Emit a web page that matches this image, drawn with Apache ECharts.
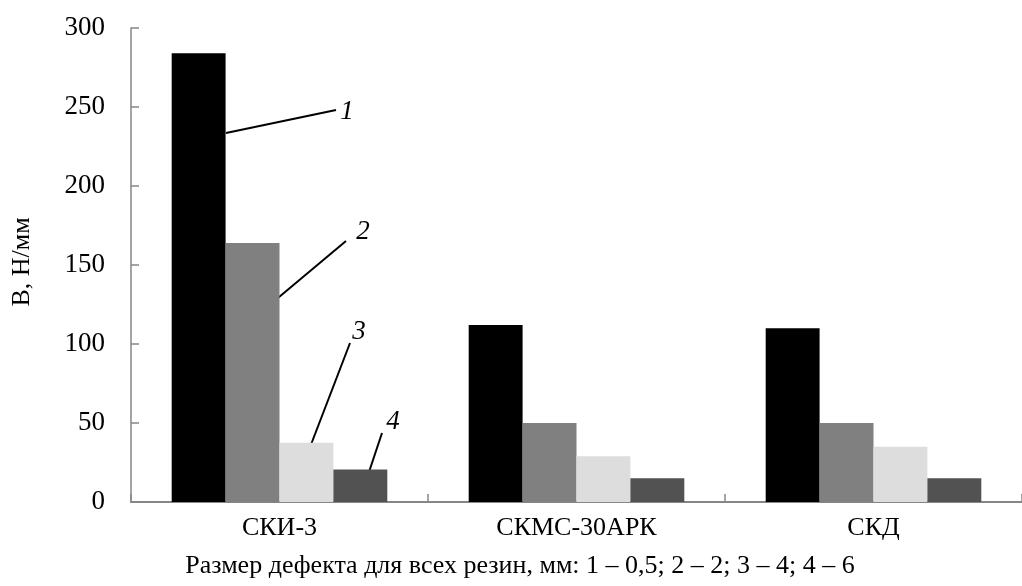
<!DOCTYPE html>
<html>
<head>
<meta charset="utf-8">
<script src="https://cdn.jsdelivr.net/npm/echarts@6/dist/echarts.min.js"></script>
<style>
html,body{margin:0;padding:0;background:#fff;}
#chart{width:1022px;height:586px;}
</style>
</head>
<body>
<div id="chart"></div>
<script>
var categories = ['СКИ-3', 'СКМС-30АРК', 'СКД'];
var series1 = [284, 112, 110];   // 1 – 0,5 мм
var series2 = [164, 50, 50];     // 2 – 2 мм
var series3 = [37.5, 29, 35];    // 3 – 4 мм
var series4 = [20.5, 15, 15];    // 4 – 6 мм
var yTicks = [0, 50, 100, 150, 200, 250, 300];
var seriesNames = ['1', '2', '3', '4'];
var colors = ['#000000', '#808080', '#dddddd', '#525252'];
var yTitle = 'В, Н/мм';
var subtitle = 'Размер дефекта для всех резин, мм: 1 – 0,5; 2 – 2; 3 – 4; 4 – 6';

var FONT = '"Liberation Serif", "Times New Roman", serif';
var AXIS = '#868686';

var chart = echarts.init(document.getElementById('chart'), null, {renderer: 'canvas'});
var data = [series1, series2, series3, series4];

var option = {
  animation: false,
  backgroundColor: '#ffffff',
  grid: {left: 131, top: 28, width: 903, height: 474, containLabel: false},
  xAxis: {
    type: 'category',
    data: categories,
    boundaryGap: true,
    axisLine: {show: true, lineStyle: {color: AXIS, width: 2}},
    axisTick: {show: true, inside: true, length: 8, lineStyle: {color: AXIS, width: 1.5}},
    axisLabel: {color: '#000', fontFamily: FONT, fontSize: 26, margin: 13}
  },
  yAxis: {
    type: 'value',
    min: yTicks[0],
    max: yTicks[yTicks.length - 1],
    interval: yTicks[1] - yTicks[0],
    axisLine: {show: true, lineStyle: {color: AXIS, width: 1.5}},
    axisTick: {show: true, inside: true, length: 8, lineStyle: {color: AXIS, width: 1.5}},
    splitLine: {show: false},
    axisLabel: {color: '#000', fontFamily: FONT, fontSize: 27, margin: 26}
  },
  series: data.map(function (d, i) {
    return {
      name: seriesNames[i],
      type: 'bar',
      data: d,
      barGap: '0%',
      barCategoryGap: '27.4%',
      itemStyle: {color: colors[i]}
    };
  }),
  graphic: [
    {type: 'text', x: 22, y: 262, rotation: Math.PI / 2,
      style: {text: yTitle, font: '26px ' + FONT, fill: '#000', textAlign: 'center', textVerticalAlign: 'middle'}},
    {type: 'text', x: 520, y: 566,
      style: {text: subtitle, font: '26px ' + FONT, fill: '#000', textAlign: 'center', textVerticalAlign: 'middle'}},
    // leader lines for series annotations
    {type: 'line', shape: {x1: 226, y1: 133, x2: 336, y2: 110}, style: {stroke: '#000', lineWidth: 2}},
    {type: 'line', shape: {x1: 254, y1: 318, x2: 346, y2: 241}, style: {stroke: '#000', lineWidth: 2}},
    {type: 'line', shape: {x1: 307, y1: 455, x2: 350, y2: 343}, style: {stroke: '#000', lineWidth: 2}},
    {type: 'line', shape: {x1: 365, y1: 484, x2: 382, y2: 433}, style: {stroke: '#000', lineWidth: 2}},
    {type: 'text', x: 347, y: 112, style: {text: seriesNames[0], font: 'italic 27px ' + FONT, fill: '#000', textAlign: 'center', textVerticalAlign: 'middle'}},
    {type: 'text', x: 363, y: 232, style: {text: seriesNames[1], font: 'italic 27px ' + FONT, fill: '#000', textAlign: 'center', textVerticalAlign: 'middle'}},
    {type: 'text', x: 359, y: 332, style: {text: seriesNames[2], font: 'italic 27px ' + FONT, fill: '#000', textAlign: 'center', textVerticalAlign: 'middle'}},
    {type: 'text', x: 393, y: 422, style: {text: seriesNames[3], font: 'italic 27px ' + FONT, fill: '#000', textAlign: 'center', textVerticalAlign: 'middle'}}
  ]
};
chart.setOption(option);
</script>
</body>
</html>
